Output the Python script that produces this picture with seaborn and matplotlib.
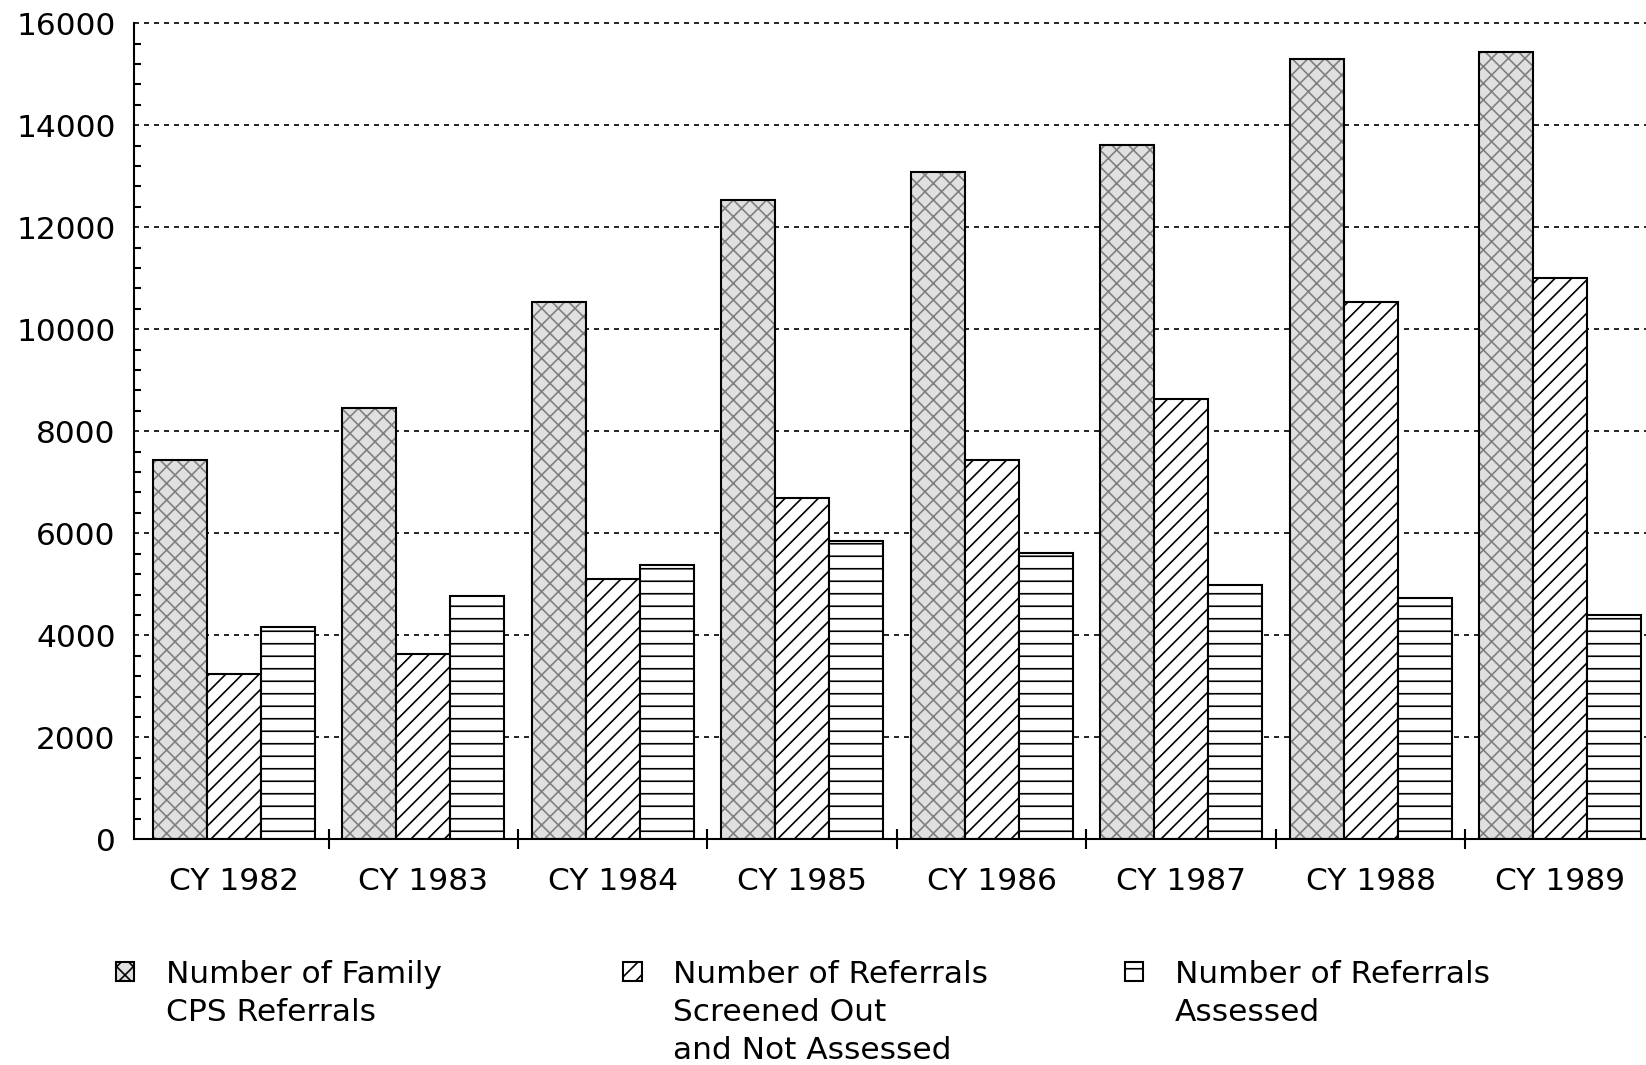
import numpy as np
import pandas as pd
import matplotlib
matplotlib.use("Agg")
import matplotlib.pyplot as plt
from matplotlib.patches import Patch
from matplotlib.ticker import MultipleLocator, FixedLocator
import seaborn as sns

# Data
YEARS = ['CY 1982', 'CY 1983', 'CY 1984', 'CY 1985',
         'CY 1986', 'CY 1987', 'CY 1988', 'CY 1989']
FAMILY_REFERRALS = [7440, 8460, 10530, 12530, 13080, 13610, 15290, 15430]
SCREENED_OUT = [3250, 3640, 5110, 6700, 7440, 8630, 10530, 11000]
ASSESSED = [4170, 4765, 5380, 5840, 5620, 4995, 4740, 4390]
SERIES = ['family', 'screened', 'assessed']
SERIES_LABELS = [['Number of Family', 'CPS Referrals'],
                 ['Number of Referrals', 'Screened Out', 'and Not Assessed'],
                 ['Number of Referrals', 'Assessed']]
Y_TICKS = [0, 2000, 4000, 6000, 8000, 10000, 12000, 14000, 16000]

# Styles
FACE_COLORS = ['#e0e0e0', 'white', 'white']
HATCHES = ['xxx', '///', '--']
DPI = 150


def build_frame():
    df = pd.DataFrame({
        'year': YEARS,
        'family': FAMILY_REFERRALS,
        'screened': SCREENED_OUT,
        'assessed': ASSESSED,
    })
    return df.melt(id_vars='year', value_vars=SERIES,
                   var_name='series', value_name='value')


def plot_chart():
    sns.set_style('white')
    plt.rcParams['font.family'] = ['DejaVu Sans']
    plt.rcParams['text.color'] = 'black'
    plt.rcParams['hatch.linewidth'] = 0.8

    df = build_frame()

    fig = plt.figure(figsize=(1646 / DPI, 1065 / DPI), dpi=DPI)
    ax = fig.add_axes([0.0816, 0.2118, 0.9238, 0.7665])

    sns.barplot(data=df, x='year', y='value', hue='series', hue_order=SERIES,
                palette=FACE_COLORS, width=0.855, edgecolor='black',
                linewidth=1.0, saturation=1, legend=False, ax=ax, zorder=2)

    for container, hatch, face in zip(ax.containers, HATCHES, FACE_COLORS):
        for bar in container:
            bar.set_hatch(hatch)
            bar.set_facecolor(face)
            bar.set_edgecolor('black')
            if hatch == 'xxx':
                # softer cross-hatch for the stippled bars
                bar._hatch_color = (0.5, 0.5, 0.5, 1.0)

    ax.set_xlim(-0.525, 7.5)
    ax.set_ylim(0, 16000)
    ax.set_yticks(Y_TICKS)
    ax.set_yticklabels([str(t) for t in Y_TICKS])
    ax.yaxis.set_minor_locator(MultipleLocator(400))
    ax.xaxis.set_minor_locator(FixedLocator(np.arange(0.5, 7.5, 1.0)))

    ax.tick_params(axis='y', which='major', direction='inout', length=10,
                   width=1, labelsize=15, pad=4, colors='black')
    ax.tick_params(axis='y', which='minor', direction='in', length=3.5,
                   width=1, left=True, colors='black')
    ax.tick_params(axis='x', which='major', length=0, labelsize=15, pad=13,
                   colors='black')
    ax.tick_params(axis='x', which='minor', direction='inout', length=10,
                   width=1, bottom=True, colors='black')

    ax.set_xlabel('')
    ax.set_ylabel('')
    ax.grid(axis='y', which='major', color='black', linestyle=(0, (3, 3)),
            linewidth=0.8)
    for line in ax.get_ygridlines():
        line.set_clip_on(False)
    ax.set_axisbelow(True)
    sns.despine(ax=ax, top=True, right=True)
    for side in ['left', 'bottom']:
        ax.spines[side].set_color('black')
        ax.spines[side].set_linewidth(1.0)

    # Legend: three separate blocks under the chart, one entry per text line
    # so the swatch sits next to the first line
    legend_x = [0.0702, 0.3785, 0.6832]
    for lines, hatch, face, x in zip(SERIES_LABELS, HATCHES, FACE_COLORS, legend_x):
        handles = [Patch(facecolor=face, edgecolor='black', hatch=hatch, linewidth=1.0)]
        handles += [Patch(facecolor='none', edgecolor='none') for _ in lines[1:]]
        fig.legend(handles, lines, loc='upper left',
                   bbox_to_anchor=(x, 0.099), frameon=False,
                   fontsize=15, handlelength=0.6, handleheight=0.6,
                   handletextpad=1.0, labelspacing=0.29,
                   borderpad=0, borderaxespad=0, labelcolor='black')

    fig.savefig('out.png', dpi=DPI)
    plt.close(fig)


if __name__ == "__main__":
    plot_chart()
